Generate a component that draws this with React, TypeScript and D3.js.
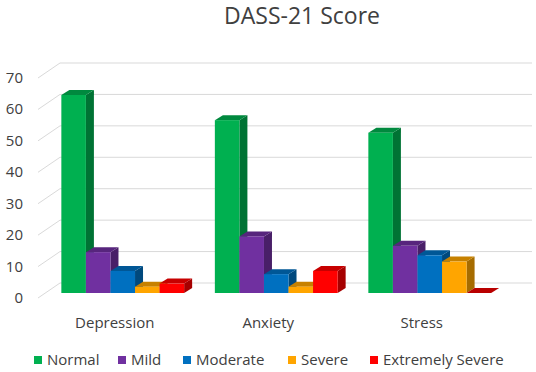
import React from 'react';
import * as d3 from 'd3';

const categories = ['Depression', 'Anxiety', 'Stress'];
const seriesNames = ['Normal', 'Mild', 'Moderate', 'Severe', 'Extremely Severe'];
const normal = [63, 55, 51];
const mild = [13, 18, 15];
const moderate = [7, 6, 12];
const severe = [2, 2, 10];
const extremelySevere = [3, 7, 0];
const yTicks = [0, 10, 20, 30, 40, 50, 60, 70];

const seriesValues = [normal, mild, moderate, severe, extremelySevere];
const colors = ['#00B050', '#7030A0', '#0070C0', '#FFA500', '#FF0000'];

const W = 536;
const H = 372;
const font = '"Open Sans", "Liberation Sans", sans-serif';
const txt = '#404040';

// 3d offsets: wall sits (22,-15) behind the front plane, bars in between
const wallDx = 22, wallDy = -15;
const barDx = 8, barDy = -5;
const depthDx = 8, depthDy = -5;

export default function App() {
  const x = d3.scaleBand().domain(categories).range([38, 498.5])
    .paddingInner(0.2).paddingOuter(0.1);
  const xs = d3.scaleBand().domain(seriesNames).range([0, x.bandwidth()]);
  const y = d3.scaleLinear().domain([0, 70]).range([298, 78]);

  const bars: JSX.Element[] = [];
  seriesNames.forEach((s, si) => {
    categories.forEach((c, ci) => {
      const v = seriesValues[si][ci];
      const x0 = (x(c) as number) + (xs(s) as number) + barDx;
      const x1 = x0 + xs.bandwidth();
      const yb = y(0) + barDy;
      const yt = y(v) + barDy;
      const base = d3.color(colors[si])!;
      const side = base.darker(1.2).formatHex();
      const top = base.darker(0.7).formatHex();
      bars.push(
        <g key={s + c}>
          {v > 0 && (
            <polygon
              points={`${x1},${yb} ${x1 + depthDx},${yb + depthDy} ${x1 + depthDx},${yt + depthDy} ${x1},${yt}`}
              fill={side}
            />
          )}
          <polygon
            points={`${x0},${yt} ${x0 + depthDx},${yt + depthDy} ${x1 + depthDx},${yt + depthDy} ${x1},${yt}`}
            fill={v > 0 ? top : base.darker(0.9).formatHex()}
          />
          {v > 0 && <rect x={x0} y={yt} width={xs.bandwidth()} height={yb - yt} fill={colors[si]} />}
        </g>
      );
    });
  });

  return (
    <svg width={W} height={H} style={{ position: 'absolute', left: 0, top: 0 }}>
      <rect width={W} height={H} fill="#fff" />
      <text x={302} y={24} textAnchor="middle" fontFamily={font} fontSize={23} fill={txt}>
        DASS-21 Score
      </text>
      {yTicks.map(t => (
        <g key={t}>
          <line x1={38} y1={y(t)} x2={38 + wallDx} y2={y(t) + wallDy} stroke="#d9d9d9" strokeWidth={1} />
          <line x1={38 + wallDx} y1={y(t) + wallDy} x2={532} y2={y(t) + wallDy} stroke="#d9d9d9" strokeWidth={1} />
          <text x={23} y={y(t) + 5} textAnchor="end" fontFamily={font} fontSize={15} fill={txt}>{t}</text>
        </g>
      ))}
      {bars}
      {categories.map(c => (
        <text key={c} x={(x(c) as number) + x.bandwidth() / 2} y={328} textAnchor="middle"
          fontFamily={font} fontSize={15} fill={txt}>{c}</text>
      ))}
      {seriesNames.map((s, i) => {
        const lx = [34, 118, 183, 288, 370][i];
        return (
          <g key={s}>
            <rect x={lx} y={356} width={8} height={8} fill={colors[i]} />
            <text x={lx + 13} y={365} fontFamily={font} fontSize={15} fill={txt}>{s}</text>
          </g>
        );
      })}
    </svg>
  );
}
